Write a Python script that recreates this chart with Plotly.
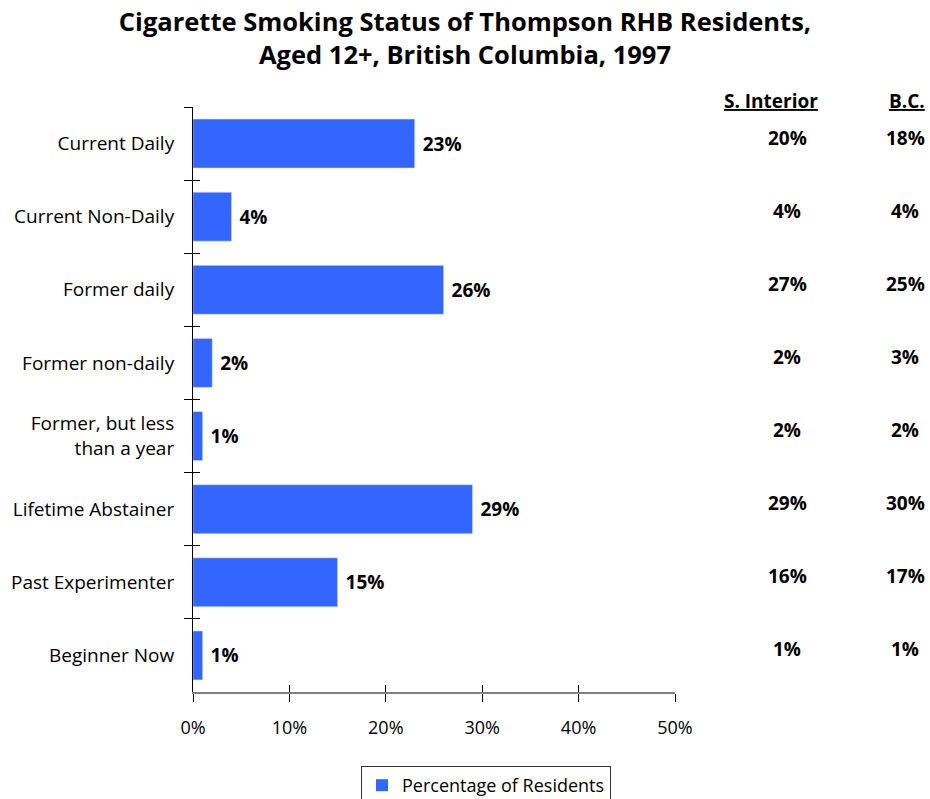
import plotly.graph_objects as go

categories = ["Current Daily", "Current Non-Daily", "Former daily", "Former non-daily",
              "Former, but less<br>than a year", "Lifetime Abstainer", "Past Experimenter",
              "Beginner Now"]
thompson = [23, 4, 26, 2, 1, 29, 15, 1]
s_interior = [20, 4, 27, 2, 2, 29, 16, 1]
bc = [18, 4, 25, 3, 2, 30, 17, 1]
x_ticks = [0, 10, 20, 30, 40, 50]
x_tick_labels = ["0%", "10%", "20%", "30%", "40%", "50%"]

FONT = "Open Sans"
BLUE = "#3366FF"

W, H = 930, 799
L, R, T, B = 193, 675, 107, 692

fig = go.Figure()
fig.add_trace(go.Bar(
    y=categories, x=thompson, orientation="h",
    marker=dict(color=BLUE, line=dict(width=0)),
    text=[f"<b> {v}%</b>" for v in thompson], textposition="outside",
    textfont=dict(family=FONT, size=19, color="black"),
    cliponaxis=False,
    name="Percentage of Residents",
    xaxis="x", yaxis="y",
))
# invisible twin trace for the inner half of crossing ticks
fig.add_trace(go.Bar(
    y=categories, x=thompson, orientation="h",
    marker=dict(color="rgba(0,0,0,0)"), showlegend=False, hoverinfo="skip",
    xaxis="x2", yaxis="y2",
))

def px_x(p):
    return (p - L) / (R - L)

ann = []
hdr_y = 1 + (T - 101) / (B - T)
ann.append(dict(text="<b><u>S. Interior</u></b>", x=px_x(771), y=hdr_y,
                xref="paper", yref="paper", showarrow=False, xanchor="center", yanchor="middle",
                font=dict(family=FONT, size=19, color="black")))
ann.append(dict(text="<b><u>B.C.</u></b>", x=px_x(907), y=hdr_y,
                xref="paper", yref="paper", showarrow=False, xanchor="center", yanchor="middle",
                font=dict(family=FONT, size=19, color="black")))
for c, s, b in zip(categories, s_interior, bc):
    ann.append(dict(text=f"<b>{s}%</b>", x=px_x(787), y=c, xref="paper", yref="y",
                    showarrow=False, xanchor="center", yanchor="middle", yshift=6,
                    font=dict(family=FONT, size=19, color="black")))
    ann.append(dict(text=f"<b>{b}%</b>", x=px_x(905), y=c, xref="paper", yref="y",
                    showarrow=False, xanchor="center", yanchor="middle", yshift=6,
                    font=dict(family=FONT, size=19, color="black")))

fig.update_layout(
    width=W, height=H,
    margin=dict(l=L, r=W - R, t=T, b=H - B, pad=0, autoexpand=False),
    paper_bgcolor="white", plot_bgcolor="white",
    font=dict(family=FONT, size=18, color="black"),
    title=dict(text="<b>Cigarette Smoking Status of Thompson RHB Residents,<br>Aged 12+, British Columbia, 1997</b>",
               x=465 / W, xanchor="center", y=1 - 31 / H, yanchor="middle",
               yref="container", xref="container",
               font=dict(family=FONT, size=25.5, color="black")),
    bargap=0.33,
    showlegend=True,
    legend=dict(orientation="h", x=486 / W, xanchor="center", y=1 - 766 / H,
                yanchor="top", xref="container", yref="container",
                bordercolor="#333333", borderwidth=1, bgcolor="white",
                font=dict(family=FONT, size=18, color="black")),
    xaxis=dict(range=[0, 50], tickvals=x_ticks, ticktext=x_tick_labels, automargin=False,
               showgrid=False, zeroline=False, showline=True, linecolor="#808080", linewidth=2,
               ticks="outside", ticklen=8, tickcolor="black", tickwidth=1,
               ticklabelstandoff=10,
               tickfont=dict(family=FONT, size=18, color="black")),
    xaxis2=dict(range=[0, 50], tickvals=x_ticks, overlaying="x", anchor="y", side="bottom",
                automargin=False,
                showgrid=False, zeroline=False, showline=False, showticklabels=False,
                ticks="inside", ticklen=7, tickcolor="black", tickwidth=1),
    yaxis=dict(type="category", categoryarray=categories, range=[7.5, -0.5], automargin=False,
               showgrid=False, zeroline=False, showline=True, linecolor="black", linewidth=1,
               ticks="outside", tickson="boundaries", ticklen=8, tickcolor="black", tickwidth=1,
               ticklabelstandoff=14,
               tickfont=dict(family=FONT, size=19, color="black")),
    yaxis2=dict(type="category", categoryarray=categories, range=[7.5, -0.5], overlaying="y",
                anchor="x", side="left", showgrid=False, zeroline=False, showline=False,
                automargin=False,
                showticklabels=False, ticks="inside", tickson="boundaries", ticklen=7,
                tickcolor="black", tickwidth=1),
    annotations=ann,
)

fig.write_html("out.html", config={"displayModeBar": False},
               post_script="document.body.style.margin='0';document.body.style.overflow='hidden';")
